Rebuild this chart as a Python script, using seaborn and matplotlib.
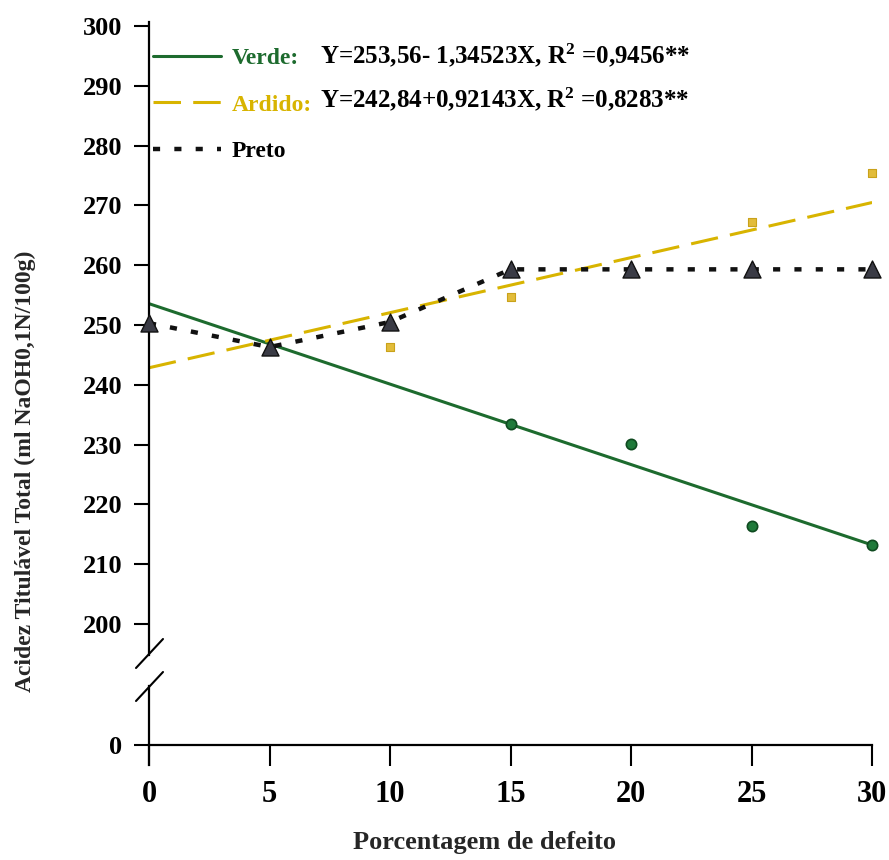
import numpy as np
import pandas as pd
import matplotlib
matplotlib.use("Agg")
import matplotlib.pyplot as plt
import seaborn as sns
from matplotlib.lines import Line2D

# data
defeito = [0, 5, 10, 15, 20, 25, 30]
verde = [np.nan, np.nan, np.nan, 233.4, 230.1, 216.4, 213.2]
ardido = [np.nan, np.nan, 246.3, 254.7, np.nan, 267.2, 275.4]
preto = [250.3, 246.3, 250.5, 259.3, 259.3, 259.3, 259.3]

fit_x = [0, 30]
verde_fit = [253.56, 213.20]
ardido_fit = [242.84, 270.48]

eq_verde = "Y=253,56- 1,34523X, R$^2$ =0,9456**"
eq_ardido = "Y=242,84+0,92143X, R$^2$ =0,8283**"

c_verde = "#1d6b2e"
c_ardido = "#d8b400"
c_preto = "#111111"

sns.set_style("white")
plt.rcParams["font.family"] = ["Liberation Serif", "DejaVu Serif"]
plt.rcParams["font.weight"] = "bold"
plt.rcParams["mathtext.fontset"] = "custom"
plt.rcParams["mathtext.rm"] = "Liberation Serif:bold"
plt.rcParams["mathtext.it"] = "Liberation Serif:bold"

df = pd.DataFrame({"x": defeito, "verde": verde, "ardido": ardido, "preto": preto})
fits = pd.DataFrame({"x": fit_x, "verde": verde_fit, "ardido": ardido_fit})

fig = plt.figure(figsize=(8.89, 8.60), dpi=100)
ax = fig.add_axes([0.1676, 0.2384, 0.8134, 0.7360])
axb = fig.add_axes([0.1676, 0.1105, 0.8134, 0.0919])

# fitted lines
sns.lineplot(data=fits, x="x", y="verde", ax=ax, color=c_verde, lw=2.2)
sns.lineplot(data=fits, x="x", y="ardido", ax=ax, color=c_ardido, lw=2.2,
             dashes=False, linestyle=(0, (9, 4)))
sns.lineplot(data=df, x="x", y="preto", ax=ax, color=c_preto, lw=3.2,
             linestyle=(0, (1.6, 3.2)))

# observed points
sns.scatterplot(data=df, x="x", y="verde", ax=ax, color="#1f7a3a", edgecolor="#0f4a20",
                s=55, marker="o", linewidth=1.2, zorder=4, clip_on=False)
sns.scatterplot(data=df, x="x", y="ardido", ax=ax, color="#e2bc3a", edgecolor="#c9a21a",
                s=40, marker="s", linewidth=0.8, zorder=4, clip_on=False)
sns.scatterplot(data=df, x="x", y="preto", ax=ax, color="#3a3b45", edgecolor="#111111",
                s=150, marker="^", linewidth=1.0, zorder=5, clip_on=False)

ax.set_xlim(0, 30)
ax.set_ylim(194.8, 300.67)
ax.set_yticks(np.arange(200, 301, 10))
ax.set_xticks([])
ax.set_xlabel("")
ax.set_ylabel("")
for s in ["top", "right", "bottom"]:
    ax.spines[s].set_visible(False)
ax.spines["left"].set_linewidth(1.6)
ax.spines["left"].set_color("black")
ax.tick_params(axis="y", direction="out", length=11, width=1.5, pad=8,
               labelsize=19, left=True, colors="black")

# lower axis showing zero
axb.set_xlim(0, 30)
axb.set_ylim(-3.34, 9.87)
axb.set_yticks([0])
axb.set_xticks(defeito)
axb.set_xticklabels([str(v) for v in defeito])
for s in ["top", "right"]:
    axb.spines[s].set_visible(False)
axb.spines["bottom"].set_position(("data", 0))
for s in ["left", "bottom"]:
    axb.spines[s].set_linewidth(1.6)
    axb.spines[s].set_color("black")
axb.tick_params(axis="y", direction="out", length=11, width=1.5, pad=8,
                labelsize=19, left=True, colors="black")
axb.tick_params(axis="x", direction="out", length=15, width=1.5, pad=10,
                labelsize=22, bottom=True, colors="black")
axb.patch.set_alpha(0)

# break marks
for y0 in [668, 701]:
    fig.add_artist(Line2D([136 / 889, 163 / 889], [1 - y0 / 860, 1 - (y0 - 29) / 860],
                          color="black", lw=1.5))

# legend
handles = [
    Line2D([0], [0], color=c_verde, lw=2.2),
    Line2D([0], [0], color=c_ardido, lw=2.2, linestyle=(0, (9, 4))),
    Line2D([0], [0], color=c_preto, lw=3.2, linestyle=(0, (1.6, 3.2))),
]
ax.legend(handles, ["Verde:", "Ardido:", "Preto"], loc="upper left",
          bbox_to_anchor=(-0.024, 0.993), frameon=False, fontsize=17,
          handlelength=2.9, handletextpad=0.45, labelspacing=1.05,
          labelcolor=[c_verde, c_ardido, "black"])

ax.text(0.236, 0.948, eq_verde, transform=ax.transAxes, fontsize=18,
        va="center", ha="left", color="black")
ax.text(0.236, 0.878, eq_ardido, transform=ax.transAxes, fontsize=18,
        va="center", ha="left", color="black")

fig.text(25 / 889, 1 - 471 / 860, "Acidez Titulável Total (ml NaOH0,1N/100g)",
         rotation=90, ha="center", va="center", fontsize=17)
fig.text(485 / 889, 1 - 843 / 860, "Porcentagem de defeito",
         ha="center", va="center", fontsize=19)

fig.savefig("out.png", dpi=100)
